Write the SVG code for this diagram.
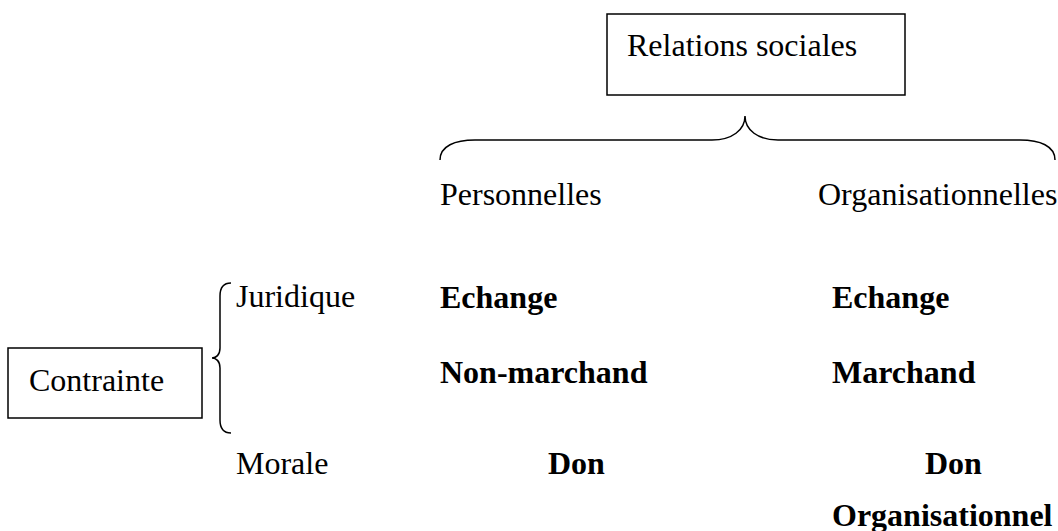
<svg xmlns="http://www.w3.org/2000/svg" width="1058" height="531" viewBox="0 0 1058 531">
<style>
.t{font-family:"Liberation Serif","Times New Roman",serif;font-size:32px;fill:#000}
.b{font-family:"Liberation Serif","Times New Roman",serif;font-size:32px;font-weight:bold;fill:#000}
.box{fill:#fff;stroke:#000;stroke-width:1.5}
.br{fill:none;stroke:#000;stroke-width:1.5}
</style>
<rect width="1058" height="531" fill="#fff"/>
<g id="relations">
<rect class="box" x="607" y="14" width="298" height="81"/>
<text class="t" x="627" y="56">Relations sociales</text>
</g>
<g id="contrainte">
<rect class="box" x="8" y="348" width="194" height="70"/>
<text class="t" x="29" y="391">Contrainte</text>
</g>
<g id="connectors">
<path class="br" d="M440,160 C440,146 455,140 475,140 L712,140 C732,140 745,130 745,116 C745,130 758,140 778,140 L1020,140 C1040,140 1055,146 1055,160"/>
<path class="br" d="M231,283 C223,283 220,288 220,296 L220,348 C220,355 216,358 212,358 C216,358 220,361 220,368 L220,420 C220,428 223,433 231,433"/>
</g>
<g id="personnelles"><text class="t" x="440" y="205">Personnelles</text></g>
<g id="organisationnelles"><text class="t" x="818" y="205">Organisationnelles</text></g>
<g id="juridique"><text class="t" x="236" y="307">Juridique</text></g>
<g id="morale"><text class="t" x="236" y="474">Morale</text></g>
<g id="echange-nm"><text class="b" x="440" y="308">Echange</text><text class="b" x="440" y="383">Non-marchand</text></g>
<g id="echange-m"><text class="b" x="832" y="308">Echange</text><text class="b" x="832" y="383">Marchand</text></g>
<g id="don-p"><text class="b" x="548" y="474">Don</text></g>
<g id="don-o"><text class="b" x="925" y="474">Don</text><text class="b" x="832" y="526">Organisationnel</text></g>
</svg>
